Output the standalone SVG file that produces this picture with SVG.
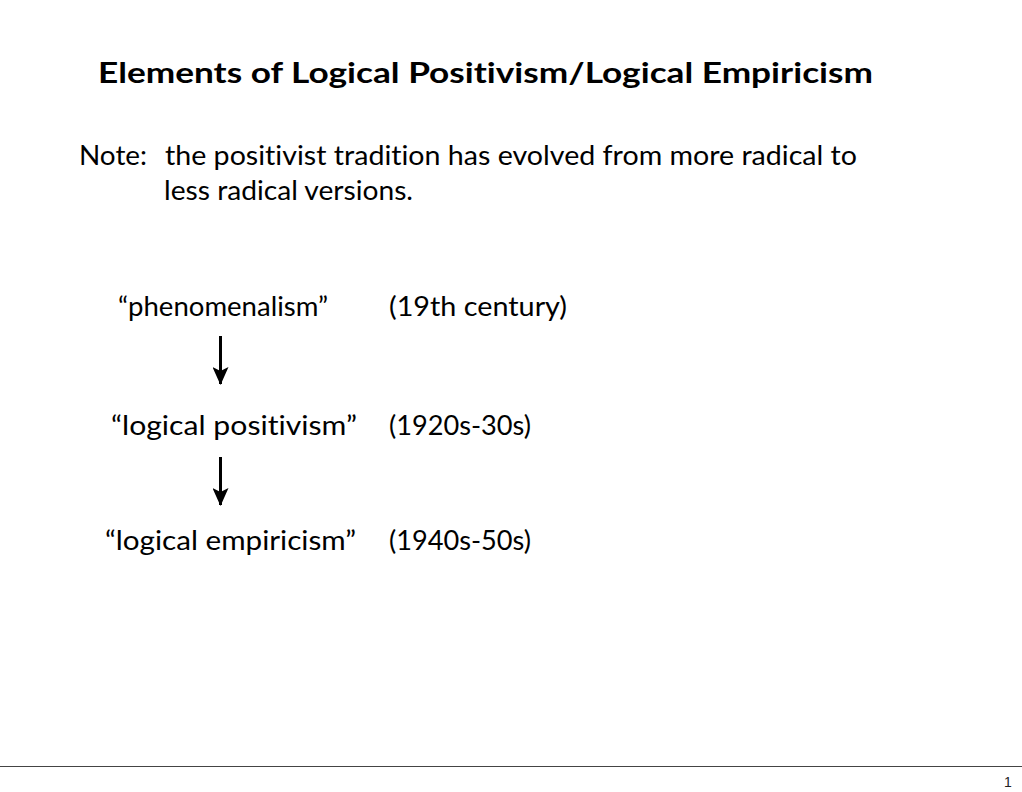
<svg xmlns="http://www.w3.org/2000/svg" width="1022" height="792" viewBox="0 0 1022 792">
<style>
text{font-family:"Lato","Open Sans","DejaVu Sans",sans-serif;fill:#000;font-variant-ligatures:none;font-feature-settings:"liga" 0}
.t{font-weight:bold;font-size:29px}
.b{font-size:27px}
.pg{font-family:"Liberation Sans",sans-serif;font-size:14px;fill:#222}
.sh{stroke:#000;stroke-width:3}
</style>
<defs>
<marker id="ah" viewBox="0 0 18 16" markerWidth="18" markerHeight="16" refX="17" refY="8" markerUnits="userSpaceOnUse" orient="auto">
<path d="M0,0 L4,8 L0,16 L18,8 Z" fill="#000"/>
</marker>
</defs>
<rect width="1022" height="792" fill="#fff"/>
<g id="title"><text class="t" x="98" y="83" textLength="775" lengthAdjust="spacingAndGlyphs">Elements of Logical Positivism/Logical Empiricism</text></g>
<g id="note">
<text class="b" x="79" y="165" textLength="68" lengthAdjust="spacingAndGlyphs">Note:</text>
<text class="b" x="165" y="165" textLength="692" lengthAdjust="spacingAndGlyphs">the positivist tradition has evolved from more radical to</text>
<text class="b" x="164" y="200" textLength="249" lengthAdjust="spacingAndGlyphs">less radical versions.</text>
</g>
<g id="n1">
<text class="b" x="118" y="316" textLength="210" lengthAdjust="spacingAndGlyphs">“phenomenalism”</text>
<text class="b" x="389" y="316" textLength="178" lengthAdjust="spacingAndGlyphs">(19th century)</text>
</g>
<g id="n2">
<text class="b" x="111" y="435" textLength="246" lengthAdjust="spacingAndGlyphs">“logical positivism”</text>
<text class="b" x="389" y="435" textLength="142" lengthAdjust="spacingAndGlyphs">(1920s-30s)</text>
</g>
<g id="n3">
<text class="b" x="105" y="550" textLength="251" lengthAdjust="spacingAndGlyphs">“logical empiricism”</text>
<text class="b" x="389" y="550" textLength="142" lengthAdjust="spacingAndGlyphs">(1940s-50s)</text>
</g>
<g id="connectors">
<line class="sh" x1="220.5" y1="336" x2="220.5" y2="384" marker-end="url(#ah)"/>
<line class="sh" x1="220.5" y1="457" x2="220.5" y2="505" marker-end="url(#ah)"/>
</g>
<g id="footer">
<line x1="0" y1="766.5" x2="1022" y2="766.5" stroke="#444" stroke-width="1.2"/>
<text class="pg" x="1008" y="787" text-anchor="middle">1</text>
</g>
</svg>
